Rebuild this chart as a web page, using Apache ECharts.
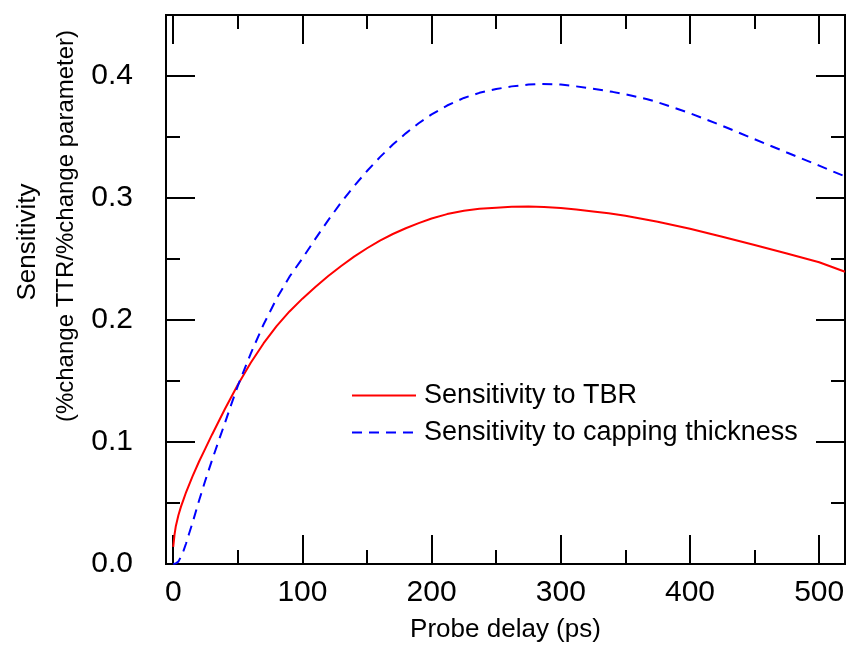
<!DOCTYPE html>
<html><head><meta charset="utf-8">
<script src="https://cdn.jsdelivr.net/npm/echarts@6/dist/echarts.min.js"></script>
<style>html,body{margin:0;padding:0;background:#fff}#c{width:851px;height:648px}</style>
</head><body><div id="c"></div>
<script>
// Probe delay (ps) and sensitivity values
const delayTBR = [0, 1, 2, 4, 6, 8, 10, 15, 20, 25, 30, 40, 50, 60, 70, 80, 90, 100, 110, 120, 130, 140, 150, 160, 170, 180, 190, 200, 212, 225, 237, 250, 262, 275, 287, 300, 312, 325, 337, 350, 375, 400, 425, 450, 475, 500, 520];
const sensTBR  = [0.014, 0.024, 0.031, 0.040, 0.047, 0.053, 0.059, 0.072, 0.084, 0.095, 0.106, 0.127, 0.147, 0.165, 0.181, 0.195, 0.207, 0.2175, 0.227, 0.236, 0.2443, 0.2519, 0.2588, 0.2651, 0.2705, 0.2752, 0.2794, 0.2832, 0.2868, 0.2895, 0.2911, 0.2921, 0.2928, 0.293, 0.2927, 0.2918, 0.2905, 0.289, 0.2875, 0.2855, 0.2805, 0.2748, 0.2683, 0.2615, 0.2545, 0.2473, 0.2395];
const delayCap = [0, 2, 4, 6, 8, 10, 12, 15, 20, 25, 30, 35, 40, 45, 50, 60, 70, 80, 90, 100, 110, 120, 130, 140, 150, 160, 170, 180, 190, 200, 212, 225, 237, 250, 262, 275, 285, 300, 312, 325, 340, 350, 367, 375, 400, 425, 450, 475, 500, 520];
const sensCap  = [0, 0.0005, 0.002, 0.006, 0.011, 0.017, 0.024, 0.034, 0.052, 0.069, 0.085, 0.1005, 0.1155, 0.131, 0.146, 0.1725, 0.1965, 0.2175, 0.2355, 0.2505, 0.2665, 0.2819, 0.2964, 0.3098, 0.3221, 0.3335, 0.3438, 0.353, 0.3613, 0.3685, 0.3758, 0.382, 0.3862, 0.3893, 0.3915, 0.393, 0.3935, 0.393, 0.3915, 0.3895, 0.387, 0.385, 0.381, 0.3785, 0.3695, 0.3592, 0.3482, 0.3373, 0.3265, 0.3177];
const seriesNames = ['Sensitivity to TBR', 'Sensitivity to capping thickness'];
const xMajorTicks = [0, 100, 200, 300, 400, 500];
const xMinorTicks = [50, 150, 250, 350, 450];
const yMajorTicks = [0, 0.1, 0.2, 0.3, 0.4];
const yMinorTicks = [0.05, 0.15, 0.25, 0.35];
const xTitle = 'Probe delay (ps)';
const yTitle1 = 'Sensitivity';
const yTitle2 = '(%change TTR/%change parameter)';

const FONT = '"Liberation Sans", Arial, sans-serif';
const X_MIN = -5.6, X_MAX = 520, Y_MIN = 0, Y_MAX = 0.45;

function xAx(pos, ticks, len, labels, name) {
  return {
    type: 'value', position: pos, min: X_MIN, max: X_MAX,
    name: name || '', nameLocation: 'middle', nameGap: 53,
    nameTextStyle: {fontFamily: FONT, fontSize: 26, color: '#000'},
    axisLine: {show: true, onZero: false, lineStyle: {color: '#000', width: 2}},
    axisTick: {show: true, inside: true, length: len, customValues: ticks, lineStyle: {color: '#000', width: 2}},
    axisLabel: {show: labels, customValues: ticks, margin: 14, fontFamily: FONT, fontSize: 30, color: '#000',
      formatter: v => String(Math.round(v))},
    splitLine: {show: false}, minorTick: {show: false}
  };
}
function yAx(pos, ticks, len, labels) {
  return {
    type: 'value', position: pos, min: Y_MIN, max: Y_MAX,
    axisLine: {show: true, onZero: false, lineStyle: {color: '#000', width: 2}},
    axisTick: {show: true, inside: true, length: len, customValues: ticks, lineStyle: {color: '#000', width: 2}},
    axisLabel: {show: labels, customValues: ticks, margin: 33, fontFamily: FONT, fontSize: 30, color: '#000',
      formatter: v => v.toFixed(1)},
    splitLine: {show: false}, minorTick: {show: false}
  };
}

const chart = echarts.init(document.getElementById('c'), null, {renderer: 'canvas'});
chart.setOption({
  animation: false,
  backgroundColor: '#fff',
  grid: {left: 166, top: 15, right: 6, bottom: 82, containLabel: false},
  xAxis: [
    xAx('bottom', xMajorTicks, 29, true, xTitle),
    xAx('bottom', xMinorTicks, 14, false),
    xAx('top', xMajorTicks, 29, false),
    xAx('top', xMinorTicks, 14, false)
  ],
  yAxis: [
    yAx('left', yMajorTicks, 29, true),
    yAx('left', yMinorTicks, 14, false),
    yAx('right', yMajorTicks, 29, false),
    yAx('right', yMinorTicks, 14, false)
  ],
  legend: {
    orient: 'vertical', left: 351, top: 382, padding: 0,
    itemWidth: 64, itemHeight: 14, itemGap: 10,
    itemStyle: {opacity: 0},
    textStyle: {fontFamily: FONT, fontSize: 27, color: '#000', padding: [0, 0, 0, 3]},
    data: seriesNames
  },
  series: [
    {
      name: seriesNames[0], type: 'line', xAxisIndex: 0, yAxisIndex: 0,
      data: delayTBR.map((t, i) => [t, sensTBR[i]]),
      showSymbol: false, symbol: 'none', smooth: false,
      lineStyle: {color: '#ff0000', width: 2}, itemStyle: {color: '#ff0000'}
    },
    {
      name: seriesNames[1], type: 'line', xAxisIndex: 0, yAxisIndex: 0,
      data: delayCap.map((t, i) => [t, sensCap[i]]),
      showSymbol: false, symbol: 'none', smooth: false,
      lineStyle: {color: '#0000ff', width: 2, type: [10, 7]}, itemStyle: {color: '#0000ff'}
    }
  ],
  graphic: [
    {type: 'text', x: 41, y: 242, rotation: Math.PI / 2,
      style: {text: yTitle1, fontFamily: FONT, fontSize: 26, fill: '#000', align: 'center', verticalAlign: 'bottom'}},
    {type: 'text', x: 78, y: 226, rotation: Math.PI / 2,
      style: {text: yTitle2, fontFamily: FONT, fontSize: 24, fill: '#000', align: 'center', verticalAlign: 'bottom'}}
  ]
});
</script>
</body></html>
